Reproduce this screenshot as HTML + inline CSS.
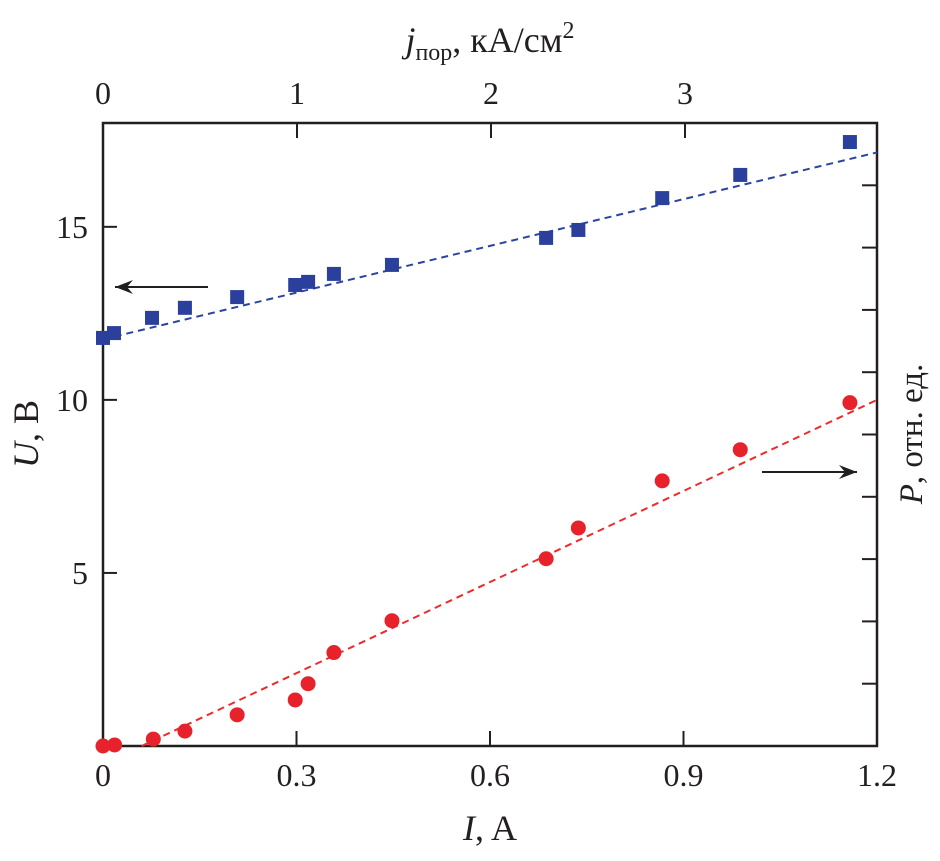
<!DOCTYPE html>
<html><head><meta charset="utf-8"><style>
body{margin:0;background:#fff;}
svg text{font-family:"Liberation Serif",serif;fill:#231f20;}
</style></head><body>
<svg width="940" height="856" viewBox="0 0 940 856" xmlns="http://www.w3.org/2000/svg">
<g id="axes"></g>
<g id="marks"></g>
</svg>
<script>
const uI=[0.0,0.017,0.076,0.127,0.208,0.298,0.318,0.358,0.448,0.687,0.737,0.867,0.988,1.158];
const uU=[11.79,11.93,12.37,12.66,12.97,13.32,13.41,13.64,13.90,14.68,14.91,15.83,16.50,17.45];
const pI=[0.0,0.018,0.078,0.127,0.208,0.298,0.318,0.358,0.448,0.687,0.737,0.867,0.988,1.158];
const pU=[0.0,0.03,0.2,0.43,0.9,1.33,1.8,2.7,3.62,5.41,6.3,7.66,8.56,9.92];
const uFit=[[0,11.75],[1.2,17.15]];
const pFit=[[0.06,0],[1.2,10.0]];
const xTicks=[0,0.3,0.6,0.9,1.2];
const yTicks=[5,10,15];
const topTicks=[0,1,2,3];
const rightCount=10;
const X0=103,X1=877,Y0=746,Y1=123;
const sx=v=>X0+(v/1.2)*(X1-X0);
const sy=v=>Y0-(v/18)*(Y0-Y1);
const st=v=>X0+v*194;
const NS="http://www.w3.org/2000/svg";
function mk(t,a,p){const e=document.createElementNS(NS,t);for(const k in a)e.setAttribute(k,a[k]);p.appendChild(e);return e;}
const ax=document.getElementById('axes'),mg=document.getElementById('marks');
let f=mk('rect',{x:X0,y:Y1,width:X1-X0,height:Y0-Y1,fill:'none',stroke:'#231f20','stroke-width':2.5},ax);


xTicks.forEach(v=>{
 if(v>0&&v<1.2){let t=mk('line',{x1:sx(v),x2:sx(v),y1:Y0,y2:Y0-15,stroke:'#231f20','stroke-width':2},ax);
 
 }
 let l=mk('text',{x:sx(v),y:786,'font-size':32,'text-anchor':'middle'},ax);l.textContent=v===0?'0':v.toFixed(1);
 
 
});
yTicks.forEach(v=>{
 let t=mk('line',{x1:X0,x2:X0+14,y1:sy(v),y2:sy(v),stroke:'#231f20','stroke-width':2},ax);
 
 
 let l=mk('text',{x:88,y:sy(v)+11,'font-size':32,'text-anchor':'end'},ax);l.textContent=v;
 
 
});
topTicks.forEach(v=>{
 if(v>0){let t=mk('line',{x1:st(v),x2:st(v),y1:Y1,y2:Y1+15,stroke:'#231f20','stroke-width':2},ax);
 
 }
 let l=mk('text',{x:st(v),y:104,'font-size':32,'text-anchor':'middle'},ax);l.textContent=v;
 
 
});
for(let i=1;i<rightCount;i++){
 const y=Y1+i*(Y0-Y1)/rightCount;
 let t=mk('line',{x1:X1,x2:X1-15,y1:y,y2:y,stroke:'#231f20','stroke-width':2},ax);
 
 
}
let xt=mk('text',{x:490,y:840,'font-size':36,'text-anchor':'middle'},ax);
xt.innerHTML='<tspan font-style="italic">I</tspan>, A';


let tt=mk('text',{x:490,y:52,'font-size':36,'text-anchor':'middle'},ax);
tt.innerHTML='<tspan font-style="italic">j</tspan><tspan font-size="24" dy="8">пор</tspan><tspan dy="-8">, кА/см</tspan><tspan font-size="24" dy="-14">2</tspan>';


let yt=mk('text',{x:0,y:0,'font-size':36,'text-anchor':'middle',transform:'translate(38,434) rotate(-90)'},ax);
yt.innerHTML='<tspan font-style="italic">U</tspan>, B';


let rt=mk('text',{x:0,y:0,'font-size':33,'text-anchor':'middle',transform:'translate(922,434) rotate(-90)'},ax);
rt.innerHTML='<tspan font-style="italic">P</tspan>, отн. ед.';


function arrow(x1,x2,y,name){
 let g=mk('g',{},ax);
 
 
 mk('line',{x1:x1,x2:x2,y1:y,y2:y,stroke:'#231f20','stroke-width':2},g);
 const d=x2>x1?-1:1;
 mk('path',{d:`M${x2},${y} L${x2+d*18},${y-7} L${x2+d*12},${y} L${x2+d*18},${y+7} Z`,fill:'#231f20'},g);
}
arrow(208,115,287,'u-axis-arrow');
arrow(762,857,472,'p-axis-arrow');
let bl=mk('line',{x1:sx(uFit[0][0]),y1:sy(uFit[0][1]),x2:sx(uFit[1][0]),y2:sy(uFit[1][1]),stroke:'#2b44a0','stroke-width':2,'stroke-dasharray':'7,5'},mg);


let rl=mk('line',{x1:sx(pFit[0][0]),y1:sy(pFit[0][1]),x2:sx(pFit[1][0]),y2:sy(pFit[1][1]),stroke:'#ee2a2a','stroke-width':2,'stroke-dasharray':'7,5'},mg);


uI.forEach((v,i)=>{
 let r=mk('rect',{x:sx(v)-7,y:sy(uU[i])-7,width:14,height:14,fill:'#2b3f9c'},mg);
 
 
});
pI.forEach((v,i)=>{
 let c=mk('circle',{cx:sx(v),cy:sy(pU[i]),r:7.5,fill:'#e8222a'},mg);
 
 
});
</script>
</body></html>
